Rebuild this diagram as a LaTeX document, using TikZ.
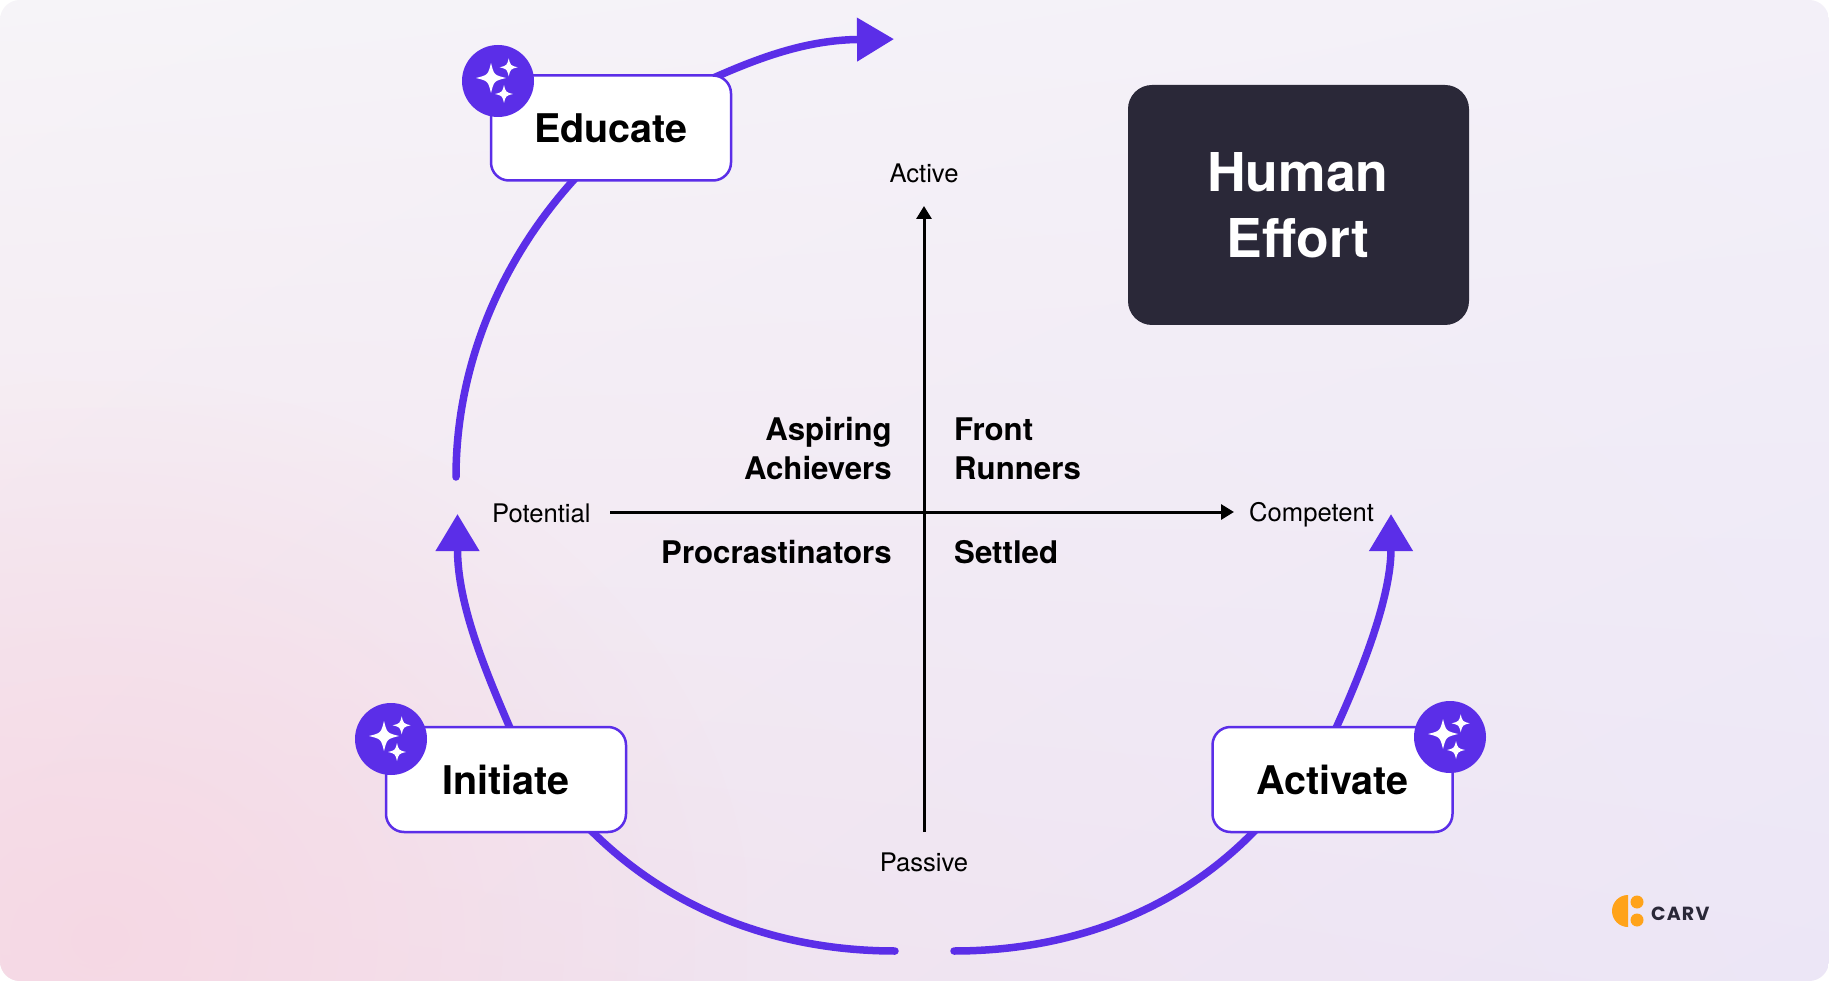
\documentclass[tikz,border=0pt]{standalone}
\usepackage{fontspec}
\setmainfont{TeX Gyre Heros}
\newfontfamily\logofont[LetterSpace=6]{Poppins}
\usetikzlibrary{arrows.meta,calc,shadings,fadings}
\pgfdeclarelayer{bgl}\pgfdeclarelayer{conn}
\pgfsetlayers{bgl,conn,main}
\definecolor{purp}{HTML}{5B2EE8}
\definecolor{ink}{HTML}{2A2838}
\definecolor{orng}{HTML}{FFA31A}
\newcommand{\fsz}[1]{\fontsize{#1}{#1}\selectfont}
\newcommand{\starpath}{(0,-1) .. controls (0.2,-0.2) .. (1,0) .. controls (0.2,0.2) .. (0,1) .. controls (-0.2,0.2) .. (-1,0) .. controls (-0.2,-0.2) .. cycle}
\tikzfading[name=pinkfade,inner color=transparent!0,outer color=transparent!100]
\tikzset{
  x=1pt,y=-1pt,
  stage/.style={draw=purp,line width=2.5pt,fill=white,rounded corners=18pt,minimum width=240pt,minimum height=105pt,inner sep=0pt,font=\fsz{39.5}\bfseries},
  flow/.style={draw=purp,line width=7.5pt},
  flowhead/.style={-{Triangle[length=37pt,width=42pt]},shorten >=-37pt},
  axisline/.style={draw=black,line width=3pt,-{Triangle[length=13pt,width=15pt]}},
  ax/.style={font=\fsz{25.6},text height=18pt,text depth=0pt,inner ysep=0pt,inner xsep=0pt,text=black},
  quad/.style={font=\fsz{31.2}\bfseries,align=left,anchor=base west,inner sep=0pt,text=black},
  quadr/.style={font=\fsz{31.2}\bfseries,anchor=base east,inner sep=0pt,text=black},
  badge/.pic={
    \fill[purp] (0,0) circle (36);
    \fill[white,shift={(-7,-3)},scale=15] \starpath;
    \fill[white,shift={(10.7,-13.7)},scale=9] \starpath;
    \fill[white,shift={(6,13)},scale=9] \starpath;
  },
}
\begin{document}
\begin{tikzpicture}
\useasboundingbox (0,0) rectangle (1829,981);
\begin{pgfonlayer}{bgl}
\fill[white] (0,0) rectangle (1829,981);
\shade[rounded corners=20pt,shading=bilinear interpolation,
  lower left={rgb,255:red,243;green,226;blue,236},
  upper left={rgb,255:red,246;green,244;blue,248},
  upper right={rgb,255:red,243;green,240;blue,248},
  lower right={rgb,255:red,236;green,230;blue,246}]
  (0,0) rectangle (1829,981);
\begin{scope}
\clip[rounded corners=20pt] (0,0) rectangle (1829,981);
\fill[color={rgb,255:red,246;green,216;blue,228},opacity=0.95,path fading=pinkfade] (-550,380) rectangle (750,1500);
\end{scope}
\end{pgfonlayer}

% stages
\node[stage] (educate) at (611,128) {\raisebox{-1.5pt}{Educate}};
\node[stage] (initiate) at (506,779.5) {Initiate};
\node[stage] (activate) at (1332.5,779.5) {Activate};
\pic at (498,81) {badge};
\pic at (391,739) {badge};
\pic at (1450,737) {badge};

% human effort
\node[fill=ink,rounded corners=24pt,minimum width=341pt,minimum height=240pt,inner sep=0pt] (effortbox) at (1298.5,205) {};
\node[font=\fsz{53.5}\bfseries,text=white,anchor=base,inner sep=0pt] (human) at (1298,192) {Human};
\node[font=\fsz{53.5}\bfseries,text=white,anchor=base,inner sep=0pt] (effort) at (1298,258) {Effort};

% axes
\node[ax] (active) at (924,173.5) {Active};
\node[ax] (passive) at (924,862) {Passive};
\node[ax,anchor=west] (potential) at (492,513) {Potential};
\node[ax,anchor=west] (competent) at (1249,512) {Competent};
\coordinate (axtop) at (924,206);
\coordinate (axbot) at (924,832);
\coordinate (axleft) at (610,512);
\coordinate (axright) at (1234,512);
\draw[axisline] (axbot) -- (axtop);
\draw[axisline] (axleft) -- (axright);

% quadrants
\node[quadr] (asp1) at (892,441) {Aspiring};
\node[quadr] (asp2) at (892,479) {Achievers};
\node[quadr] (proc) at (892,563) {Procrastinators};
\node[quad] (fr1) at (954,441) {Front};
\node[quad] (fr2) at (954,479) {Runners};
\node[quad] (settled) at (954,563) {Settled};

% flow connectors
\coordinate (baseleft) at (457.5,551);
\coordinate (baseright) at (1391,551);
\coordinate (basetop) at (857,39.5);
\coordinate (gapL) at (895,951);
\coordinate (gapR) at (954,951);
\coordinate (restart) at (456,477);
\begin{pgfonlayer}{conn}
\draw[flow,line cap=round] ($(initiate.south west)+(205,-4)$) .. controls (675,915) and (785,951) .. (gapL);
\draw[flow,line cap=round] (gapR) .. controls (1064,951) and (1174,915) .. ($(activate.south west)+(45,-4)$);
\draw[flow,flowhead] ($(activate.north west)+(124,4)$) .. controls (1358,680) and (1391,600) .. (baseright);
\draw[flow,flowhead] ($(initiate.north west)+(126,4)$) .. controls (486,672) and (457.5,605) .. (baseleft);
\draw[flow,line cap=round] (restart) .. controls (456,360) and (505,255) .. ($(educate.south west)+(86,-4)$);
\draw[flow,flowhead] ($(educate.north west)+(223,4)$) .. controls (765,55) and (810,40) .. (basetop);
\end{pgfonlayer}

% logo
\fill[orng] (1628,895) arc (90:270:16 and -16) -- cycle;
\node[circle,fill=orng,minimum size=13pt,inner sep=0pt] (logoa) at (1637,902) {};
\node[circle,fill=orng,minimum size=13pt,inner sep=0pt] (logob) at (1637,920) {};
\node[font=\logofont\fsz{19}\bfseries,text=ink,anchor=base west,inner sep=0pt] (carv) at (1651,920) {CARV};
\end{tikzpicture}
\end{document}
